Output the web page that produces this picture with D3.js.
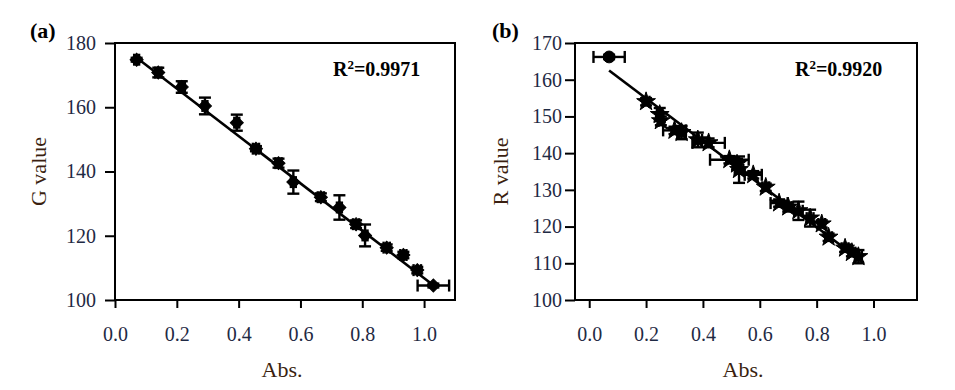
<!DOCTYPE html>
<html><head><meta charset="utf-8">
<script src="https://cdn.jsdelivr.net/npm/d3@7/dist/d3.min.js"></script>
<style>body{margin:0;background:#fff}svg{display:block}</style>
</head><body>
<svg id="c" width="955" height="390"></svg>
<script>
// Panel (a) data
const absA   = [0.070,0.140,0.216,0.291,0.394,0.456,0.529,0.577,0.666,0.726,0.780,0.809,0.879,0.933,0.978,1.030];
const gValue = [174.8,170.8,166.3,160.4,155.2,147.1,142.6,136.7,132.0,128.8,123.6,120.1,116.3,114.0,109.3,104.5];
const gErrX  = [0.008,0.010,0.010,0.008,0.008,0.010,0.010,0.008,0.010,0.008,0.010,0.008,0.010,0.010,0.012,0.051];
const gErrY  = [0.6,1.5,1.8,2.6,2.5,0.8,1.4,3.6,1.2,3.8,1.2,3.4,1.0,1.0,1.0,0.6];
const fitAx  = [0.070,1.030];
const fitAy  = [175.4,104.6];
const xTicksA = [0.0,0.2,0.4,0.6,0.8,1.0];
const yTicksA = [100,120,140,160,180];

// Panel (b) data
const absB   = [0.070,0.200,0.248,0.252,0.300,0.325,0.382,0.420,0.493,0.520,0.527,0.577,0.621,0.668,0.700,0.736,0.777,0.818,0.842,0.900,0.924,0.947];
const rValue = [166.2,154.0,150.5,148.8,146.2,145.6,143.6,142.8,138.2,137.0,135.5,134.1,130.7,126.4,125.3,124.3,122.3,120.7,117.1,114.1,112.9,111.8];
const rErrX  = [0.055,0.012,0.010,0.008,0.040,0.015,0.015,0.057,0.068,0.015,0.015,0.030,0.012,0.030,0.012,0.015,0.012,0.012,0.012,0.012,0.012,0.012];
const rErrY  = [0.6,1.0,1.8,1.2,1.0,1.8,2.0,1.2,1.0,1.5,3.6,1.0,1.0,1.0,1.2,2.5,2.3,1.0,1.0,1.0,1.0,1.8];
const fitBx  = [0.070,0.965];
const fitBy  = [162.5,110.2];
const xTicksB = [0.0,0.2,0.4,0.6,0.8,1.0];
const yTicksB = [100,110,120,130,140,150,160,170];

const svg = d3.select("#c");
const FONT = "'Liberation Serif','Times New Roman',serif";
const tickCol = "#1f2a44", titleCol = "#3b1f10";

function panel(o){
  const x = d3.scaleLinear().domain(o.xd).range([o.l,o.r]);
  const y = d3.scaleLinear().domain(o.yd).range([o.b,o.t]);
  const g = svg.append("g");
  const ax = g.append("g").attr("transform",`translate(0,${o.b})`)
    .call(d3.axisBottom(x).tickValues(o.xt).tickFormat(d3.format(".1f")).tickSize(8).tickPadding(19));
  const ay = g.append("g").attr("transform",`translate(${o.l},0)`)
    .call(d3.axisLeft(y).tickValues(o.yt).tickSize(10).tickPadding(o.yPad));
  [ax,ay].forEach(a=>{
    a.select(".domain").remove();
    a.selectAll("line").attr("stroke","#000").attr("stroke-width",2);
    a.selectAll("text").attr("font-family",FONT).attr("font-size",20).attr("fill",tickCol);
  });
  g.append("rect").attr("x",o.l).attr("y",o.t).attr("width",o.r-o.l).attr("height",o.b-o.t)
    .attr("fill","none").attr("stroke","#000").attr("stroke-width",2);
  g.append("line").attr("x1",x(o.fx[0])).attr("y1",y(o.fy[0])).attr("x2",x(o.fx[1])).attr("y2",y(o.fy[1]))
    .attr("stroke","#000").attr("stroke-width",2.6);
  const pts = o.xs.map((v,i)=>({x:v,y:o.ys[i],ex:o.ex[i],ey:o.ey[i]}));
  const cap = 6;
  const eb = g.append("g").attr("stroke","#000").attr("stroke-width",2.4);
  pts.forEach(p=>{
    const cx=x(p.x), cy=y(p.y);
    const y1=y(p.y+p.ey), y2=y(p.y-p.ey);
    eb.append("line").attr("x1",cx).attr("x2",cx).attr("y1",y1).attr("y2",y2);
    eb.append("line").attr("x1",cx-cap).attr("x2",cx+cap).attr("y1",y1).attr("y2",y1);
    eb.append("line").attr("x1",cx-cap).attr("x2",cx+cap).attr("y1",y2).attr("y2",y2);
    const x1=x(p.x-p.ex), x2=x(p.x+p.ex);
    eb.append("line").attr("x1",x1).attr("x2",x2).attr("y1",cy).attr("y2",cy);
    eb.append("line").attr("x1",x1).attr("x2",x1).attr("y1",cy-cap).attr("y2",cy+cap);
    eb.append("line").attr("x1",x2).attr("x2",x2).attr("y1",cy-cap).attr("y2",cy+cap);
  });
  g.append("g").selectAll("path").data(pts).join("path")
    .attr("transform",(d,i)=>`translate(${x(d.x)},${y(d.y)}) rotate(${o.rot(i)})`)
    .attr("d",(d,i)=>d3.symbol(o.sym(i),o.symSize(i))())
    .attr("fill","#000").attr("stroke","#000").attr("stroke-width",1);
  g.append("text").attr("x",o.labX).attr("y",38).attr("font-family",FONT).attr("font-weight","bold")
    .attr("font-size",22).attr("fill","#000").text(o.lab);
  g.append("text").attr("transform",`translate(${o.ytX},${(o.t+o.b)/2}) rotate(-90)`)
    .attr("text-anchor","middle").attr("dy","0.35em").attr("font-family",FONT).attr("font-size",22)
    .attr("fill",titleCol).text(o.ytitle);
  g.append("text").attr("x",(o.l+o.r)/2-3).attr("y",377).attr("text-anchor","middle")
    .attr("font-family",FONT).attr("font-size",22).attr("fill",titleCol).text("Abs.");
  const r2 = g.append("text").attr("x",o.r2x).attr("y",76).attr("font-family",FONT).attr("font-weight","bold")
    .attr("font-size",20).attr("fill","#000");
  r2.append("tspan").text("R");
  r2.append("tspan").attr("font-size",13).attr("dy","-0.55em").text("2");
  r2.append("tspan").attr("dy","0.35em").text("=" + o.r2);
}

panel({xd:[0,1.1],yd:[100,180],l:115,r:455,t:43,b:300,xt:xTicksA,yt:yTicksA,yPad:9,
  xs:absA,ys:gValue,ex:gErrX,ey:gErrY,fx:fitAx,fy:fitAy,
  sym:()=>d3.symbolSquare,symSize:()=>85,rot:()=>45,lab:"(a)",labX:30,ytitle:"G value",ytX:38,r2x:333,r2:"0.9971"});
panel({xd:[-0.05,1.153],yd:[100,170],l:575,r:917,t:43,b:300,xt:xTicksB,yt:yTicksB,yPad:3,
  xs:absB,ys:rValue,ex:rErrX,ey:rErrY,fx:fitBx,fy:fitBy,
  sym:i=>i===0?d3.symbolCircle:d3.symbolStar,symSize:i=>i===0?110:110,rot:()=>0,lab:"(b)",labX:492,ytitle:"R value",ytX:500,r2x:795,r2:"0.9920"});
</script>
</body></html>
